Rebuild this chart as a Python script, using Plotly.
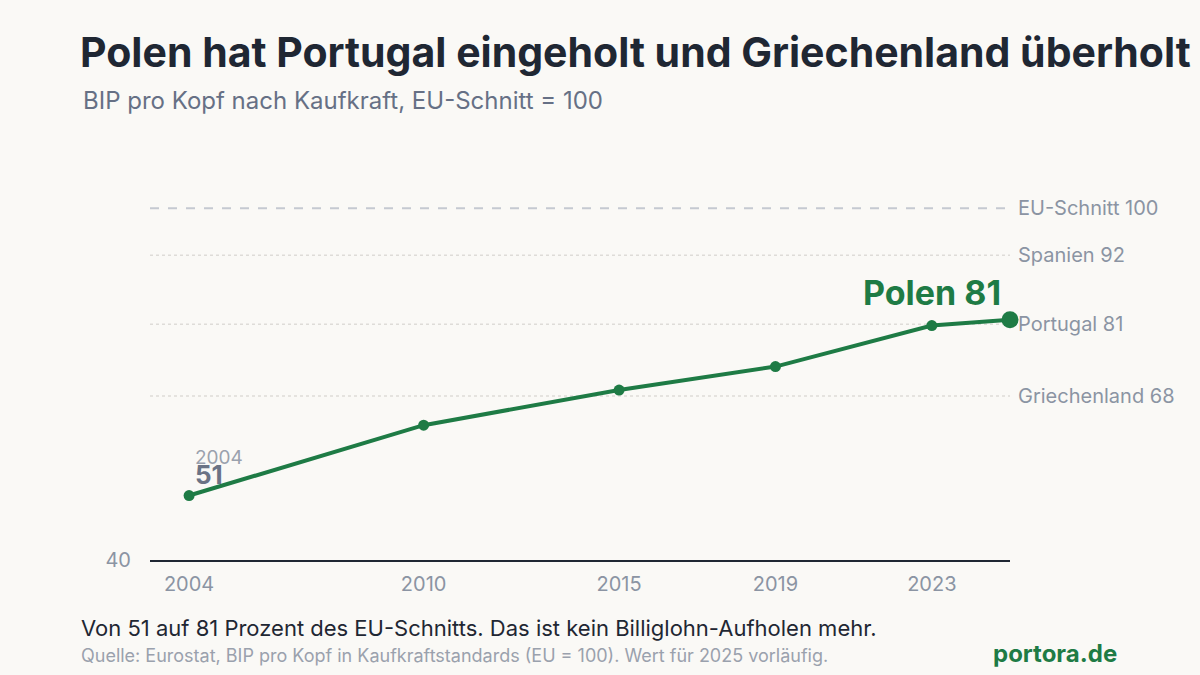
import plotly.graph_objects as go

years = [2004, 2010, 2015, 2019, 2023, 2025]
polen = [51, 63, 69, 73, 80, 81]
ref_labels = ["EU-Schnitt 100", "Spanien 92", "Portugal 81", "Griechenland 68"]
ref_levels = [100, 92, 80.2, 68]
tick_years = [2004, 2010, 2015, 2019, 2023]

GREEN = "#1e7b45"
GRAY = "#8b94a3"
DARK = "#1f2733"
BG = "#faf9f6"
FONT = "Inter"

L, R, T, B = 150, 190, 179, 115
W, H = 1200, 675
PW, PH = W - L - R, H - T - B

def px(x):
    return (x - L) / PW

def py(y):
    return (H - B - y) / PH

fig = go.Figure()

# reference lines
for lab, lev in zip(ref_labels, ref_levels):
    dashed = lab.startswith("EU")
    fig.add_trace(go.Scatter(
        x=[2003, 2025], y=[lev, lev], mode="lines",
        line=dict(color="#c5c9d1" if dashed else "#dedcd8", width=2 if dashed else 1.5,
                  dash="dash" if dashed else "dot"),
        hoverinfo="skip", showlegend=False, cliponaxis=False))
    fig.add_annotation(x=2025, y=lev, text=lab, showarrow=False, xanchor="left",
                       xshift=6, font=dict(family=FONT, size=20, color=GRAY))

fig.add_trace(go.Scatter(
    x=years, y=polen, mode="lines+markers",
    line=dict(color=GREEN, width=4),
    marker=dict(color=GREEN, size=[11, 11, 11, 11, 11, 17], opacity=1, line=dict(width=0)),
    showlegend=False, cliponaxis=False))

fig.add_annotation(x=years[-1], y=polen[-1], text="<b>Polen 81</b>", showarrow=False,
                   xanchor="right", yanchor="middle", xshift=-7, yshift=27,
                   font=dict(family=FONT, size=34, color=GREEN))
fig.add_annotation(x=years[0], y=polen[0], text="2004", showarrow=False,
                   xanchor="left", yanchor="middle", xshift=4, yshift=38,
                   font=dict(family=FONT, size=19, color="#9aa1ad"))
fig.add_annotation(x=years[0], y=polen[0], text="<b>51</b>", showarrow=False,
                   xanchor="left", yanchor="middle", xshift=4, yshift=21,
                   font=dict(family=FONT, size=26, color="#6b7385"))

# titles and footer
fig.add_annotation(xref="paper", yref="paper", x=px(78), y=py(52), text="<b>Polen hat Portugal eingeholt und Griechenland überholt</b>",
                   showarrow=False, xanchor="left", yanchor="middle",
                   font=dict(family=FONT, size=41, color=DARK))
fig.add_annotation(xref="paper", yref="paper", x=px(81), y=py(100), text="BIP pro Kopf nach Kaufkraft, EU-Schnitt = 100",
                   showarrow=False, xanchor="left", yanchor="middle",
                   font=dict(family=FONT, size=24, color="#667085"))
fig.add_annotation(xref="paper", yref="paper", x=px(79), y=py(628), text="Von 51 auf 81 Prozent des EU-Schnitts. Das ist kein Billiglohn-Aufholen mehr.",
                   showarrow=False, xanchor="left", yanchor="middle",
                   font=dict(family=FONT, size=22, color=DARK))
fig.add_annotation(xref="paper", yref="paper", x=px(79), y=py(655), text="Quelle: Eurostat, BIP pro Kopf in Kaufkraftstandards (EU = 100). Wert für 2025 vorläufig.",
                   showarrow=False, xanchor="left", yanchor="middle",
                   font=dict(family=FONT, size=18, color="#9aa1ad"))
fig.add_annotation(xref="paper", yref="paper", x=px(1119), y=py(653), text="<b>portora.de</b>",
                   showarrow=False, xanchor="right", yanchor="middle",
                   font=dict(family=FONT, size=24, color=GREEN))

fig.update_layout(
    width=W, height=H,
    margin=dict(l=L, r=R, t=T, b=B),
    paper_bgcolor=BG, plot_bgcolor=BG,
    font=dict(family=FONT, color=GRAY),
    xaxis=dict(range=[2003, 2025], tickvals=tick_years, ticktext=[str(t) for t in tick_years],
               showgrid=False, zeroline=False, showline=True, linecolor=DARK, linewidth=2,
               ticks="outside", ticklen=5, tickcolor="rgba(0,0,0,0)",
               tickfont=dict(family=FONT, size=20, color=GRAY), fixedrange=True),
    yaxis=dict(range=[40, 105], tickvals=[40], ticktext=["40"],
               showgrid=False, zeroline=False, showline=False,
               ticks="outside", ticklen=14, tickcolor="rgba(0,0,0,0)",
               tickfont=dict(family=FONT, size=20, color=GRAY), fixedrange=True),
    hovermode=False,
)

fig.write_html("out.html")
